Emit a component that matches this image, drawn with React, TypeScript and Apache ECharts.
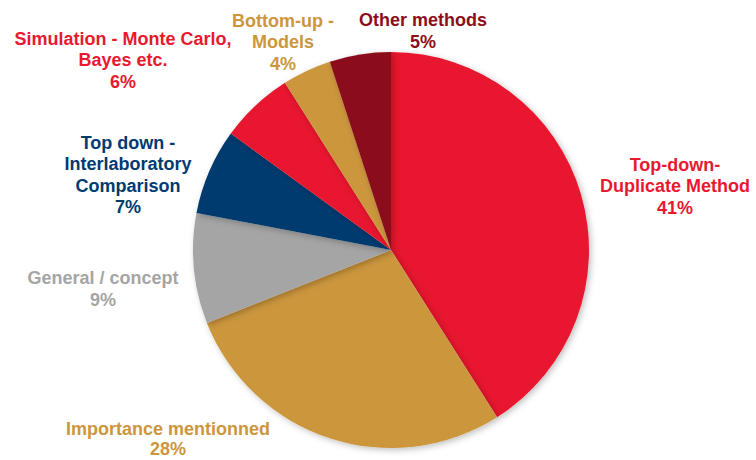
import React, { useEffect, useRef } from "react";
import * as echarts from "echarts";

const categories = [
  "Top-down-\nDuplicate Method",
  "Importance mentionned",
  "General / concept",
  "Top down -\nInterlaboratory\nComparison",
  "Simulation - Monte Carlo,\nBayes etc.",
  "Bottom-up -\nModels",
  "Other methods",
];
const values = [41, 28, 9, 7, 6, 4, 5];
const colors = ["#E8192F", "#CC963D", "#A5A5A5", "#003A70", "#E8192F", "#CC963D", "#8B0E1A"];
// label block centres (layout only)
const labelPos = [
  [675, 186],
  [168, 439],
  [103, 289],
  [128, 175],
  [123, 60],
  [283, 42],
  [423, 31],
];
const labelLineHeights = [21.5, 19.5, 21.5, 21.5, 21.5, 21.5, 21.5];

export default function App() {
  const ref = useRef<HTMLDivElement>(null);
  useEffect(() => {
    document.body.style.margin = "0";
    const chart = echarts.init(ref.current!, null, { renderer: "svg" });
    chart.setOption({
      animation: false,
      backgroundColor: "#ffffff",
      series: [
        {
          type: "pie",
          center: [391, 250],
          radius: [0, 198],
          startAngle: 90,
          clockwise: true,
          avoidLabelOverlap: false,
          itemStyle: {
            shadowBlur: 6,
            shadowOffsetX: 2,
            shadowOffsetY: 2,
            shadowColor: "rgba(0,0,0,0.25)",
          },
          emphasis: { disabled: true },
          labelLine: { show: false },
          label: {
            show: true,
            formatter: "{b}\n{c}%",
            fontFamily: "Liberation Sans, Arial, sans-serif",
            fontWeight: "bold",
            fontSize: 18,
            lineHeight: 21.5,
            align: "center",
          },
          labelLayout: (p: any) => ({
            x: labelPos[p.dataIndex][0],
            y: labelPos[p.dataIndex][1],
            align: "center",
            verticalAlign: "middle",
          }),
          data: categories.map((name, i) => ({
            name,
            value: values[i],
            itemStyle: { color: colors[i] },
            label: { color: colors[i], lineHeight: labelLineHeights[i] },
          })),
        },
      ],
    });
    return () => chart.dispose();
  }, []);
  return <div ref={ref} style={{ width: 756, height: 460 }} />;
}
